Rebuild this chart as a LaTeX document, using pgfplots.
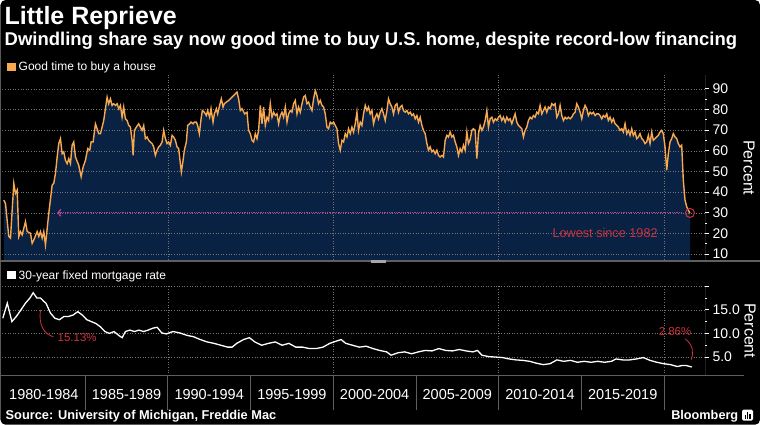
\documentclass[border=0pt]{standalone}
\usepackage{pgfplots}
\pgfplotsset{compat=1.18}
\usepackage{pgfplotstable}
\usepackage{fontspec}
\setmainfont{Liberation Sans}
\usetikzlibrary{arrows.meta}

\definecolor{navy}{RGB}{9,33,66}
\definecolor{sentorange}{RGB}{248,168,78}
\definecolor{annred}{RGB}{205,50,62}
\definecolor{arrowpink}{RGB}{185,60,150}
\definecolor{gridgray}{RGB}{115,115,120}
\definecolor{sepgray}{RGB}{95,95,95}

% Good time to buy a house (x column = horizontal position, converted to years below)
\pgfplotstableread{
px v
3.3 36.1
5.0 34.5
8.3 18.5
10.0 17.7
13.3 44.2
15.0 39.4
16.7 41.0
18.3 18.5
20.0 20.9
21.7 19.3
25.0 25.7
26.7 20.9
30.0 20.1
31.7 15.2
33.3 16.8
36.7 20.9
38.3 18.5
40.0 20.9
41.7 17.7
43.3 20.9
45.0 14.4
48.3 29.7
51.7 43.4
53.3 44.2
55.0 49.0
56.7 57.0
58.3 63.5
60.0 65.9
61.7 58.6
63.3 59.5
65.0 55.4
66.7 53.8
68.3 56.2
70.0 53.8
71.7 62.7
73.3 64.3
75.0 57.0
78.3 53.0
80.7 47.4
82.7 52.2
85.0 55.4
87.3 61.1
89.3 60.3
90.7 64.3
92.7 64.3
95.0 73.1
96.7 70.7
98.3 68.3
100.0 68.3
101.7 71.5
103.3 74.7
105.0 80.4
106.7 86.0
108.3 82.8
110.0 85.2
111.7 82.0
113.3 82.8
115.0 82.0
116.7 82.8
118.3 80.4
120.0 82.0
121.7 76.3
123.3 81.2
125.0 75.5
126.7 74.7
128.3 72.3
130.0 71.5
131.7 65.1
132.7 57.8
134.0 69.9
136.0 71.5
138.3 73.1
140.0 71.5
141.7 69.9
143.3 72.3
145.0 65.9
146.7 66.7
148.3 65.1
150.0 64.3
151.7 63.5
153.3 61.9
155.0 57.8
156.7 60.3
158.3 61.9
160.0 62.7
161.7 64.3
163.3 69.9
165.0 65.9
166.7 63.5
168.3 64.3
170.0 62.7
171.7 67.5
173.3 66.7
175.0 65.1
176.7 61.9
178.3 61.1
180.0 53.8
181.0 49.8
182.7 55.4
184.0 60.3
186.0 64.3
187.3 72.3
189.3 73.1
190.7 73.9
192.7 73.1
194.0 73.9
196.0 73.9
197.3 72.3
199.0 68.3
200.7 75.5
202.0 79.5
204.0 78.7
206.0 77.1
207.3 79.5
209.3 76.3
210.7 80.4
212.7 73.9
214.0 77.9
216.0 80.4
217.3 77.9
219.3 82.0
221.0 85.2
222.7 81.2
224.0 82.8
226.0 83.6
228.3 84.4
230.0 85.2
231.7 86.0
233.3 86.8
235.0 87.6
236.7 88.4
238.3 85.2
240.0 79.5
241.7 80.4
244.3 77.9
246.7 78.7
248.3 69.9
250.0 68.3
251.7 65.1
253.3 64.3
255.0 68.3
256.7 65.9
258.3 69.9
260.0 82.0
261.7 73.1
263.3 81.2
265.0 72.3
266.7 76.3
268.3 74.7
270.0 82.8
271.7 76.3
273.3 78.7
275.0 77.1
276.7 77.9
278.3 73.1
280.0 77.1
281.7 78.7
283.3 76.3
285.0 81.2
286.7 73.9
288.3 77.9
290.0 79.5
291.7 78.7
293.3 82.8
295.0 84.4
296.7 77.9
298.3 81.2
300.0 78.7
301.7 82.8
303.3 86.0
305.0 86.8
306.7 82.8
308.3 83.6
310.0 81.2
311.7 79.5
313.3 85.2
315.0 89.2
316.7 86.8
318.3 82.8
320.0 84.4
321.7 82.0
323.3 81.2
325.0 77.9
326.7 71.5
328.3 70.7
330.0 73.9
331.7 73.1
333.3 73.9
335.0 72.3
336.7 70.7
338.3 63.5
340.0 60.3
341.7 65.1
343.3 64.3
345.0 68.3
346.7 66.7
348.3 70.7
350.0 68.3
351.7 71.5
353.3 69.1
355.0 73.1
356.7 78.7
358.3 69.9
360.0 73.9
361.7 72.3
363.3 77.9
365.0 82.0
366.7 79.5
368.3 81.2
370.0 77.9
371.7 79.5
373.3 73.1
375.0 76.3
376.7 77.9
378.3 75.5
380.0 78.7
381.7 80.4
383.3 77.9
385.0 74.7
386.7 79.5
388.3 85.2
390.0 82.8
391.7 81.2
393.3 77.9
395.0 82.0
396.7 82.8
398.3 78.7
400.0 81.2
401.7 82.0
403.3 79.5
405.0 78.7
406.7 79.5
408.3 77.9
410.0 78.7
411.7 77.1
413.3 77.9
415.0 75.5
416.7 77.1
418.3 73.9
420.0 76.3
421.7 72.3
423.3 69.9
425.0 68.3
426.7 63.5
428.3 60.3
430.0 61.9
431.7 59.5
433.3 60.3
435.0 58.6
436.7 60.3
438.3 57.8
440.0 57.0
441.7 57.8
443.3 57.0
445.0 65.1
446.7 67.5
448.3 66.7
450.0 69.1
451.7 66.7
453.3 67.5
455.0 64.3
456.7 61.9
458.3 57.8
460.0 61.1
461.7 59.5
463.3 62.7
465.0 60.3
466.7 69.1
468.3 63.5
470.0 65.5
471.7 69.9
473.3 70.7
475.0 69.9
476.7 56.2
478.3 68.3
480.0 72.3
481.7 69.9
483.3 71.5
485.0 74.7
486.7 79.5
488.3 71.5
490.0 75.5
491.7 76.3
493.3 73.9
495.0 75.5
496.7 74.7
498.3 76.3
500.0 77.1
501.7 74.7
503.3 76.3
505.0 73.9
506.7 76.3
508.3 74.7
510.0 75.5
511.7 73.1
513.3 75.5
515.0 77.9
516.7 73.9
518.3 72.3
520.0 71.5
521.7 70.7
523.3 66.7
525.0 69.9
526.7 71.5
528.3 74.7
530.0 76.3
531.7 75.5
533.3 77.1
535.0 76.3
536.7 78.7
538.3 77.9
540.0 82.0
541.7 77.9
543.3 79.5
545.0 81.2
546.7 78.7
548.3 81.2
550.0 80.4
551.7 82.8
553.3 82.0
555.0 82.8
556.7 76.3
558.3 77.9
560.0 82.0
561.7 77.1
563.3 74.7
565.0 76.3
566.7 75.5
568.3 76.3
570.0 75.5
571.7 76.3
573.3 77.9
575.0 78.7
576.7 82.8
578.3 81.2
580.0 78.7
581.7 75.5
583.3 79.5
585.0 82.0
586.7 80.4
588.3 77.1
590.0 78.7
591.7 77.9
593.3 78.7
595.0 77.1
596.7 77.9
598.3 77.9
600.0 77.1
601.7 75.5
603.3 77.1
605.0 76.3
606.7 77.9
608.3 74.7
610.0 76.3
611.7 73.9
613.3 75.5
615.0 73.1
616.7 72.3
618.3 71.5
620.0 69.9
621.7 70.7
623.3 69.1
625.0 73.1
626.7 68.3
628.3 69.9
630.0 67.5
631.7 70.7
633.3 67.5
635.0 69.1
636.7 65.9
638.3 66.7
640.0 68.3
641.7 65.9
643.3 65.1
645.0 63.5
646.7 64.3
648.3 67.5
650.0 63.5
651.7 69.1
653.3 65.1
655.0 65.9
656.7 66.7
658.3 67.5
660.0 69.1
661.7 69.9
663.3 68.3
665.0 61.9
666.7 50.6
668.3 58.6
670.0 64.3
671.7 65.9
673.3 68.3
675.0 66.7
676.7 65.9
678.3 63.5
680.0 61.9
681.7 62.7
683.3 45.8
685.0 36.1
686.7 32.9
688.3 31.3
690.0 29.7
}\topdata

% 30-year fixed mortgage rate
\pgfplotstableread{
px v
2.3 13.2
6.8 16.4
11.4 12.5
15.9 13.6
20.5 15.0
25.0 16.4
29.5 17.5
32.7 18.6
36.4 17.5
40.0 17.5
43.2 16.8
45.5 16.4
50.0 14.3
54.5 13.2
59.0 12.9
63.6 13.6
68.2 13.6
72.7 13.9
77.3 14.6
81.8 13.9
86.4 12.9
90.9 12.5
95.5 12.1
100.0 11.4
104.5 10.4
109.0 10.0
113.6 10.4
118.2 9.6
121.8 9.1
125.0 10.4
129.5 10.7
134.0 10.4
138.6 10.7
143.2 10.4
147.7 10.7
152.3 11.1
156.8 11.3
161.4 10.1
165.9 9.9
172.7 10.4
179.5 10.1
186.4 9.6
193.2 9.3
200.0 8.7
206.8 8.2
213.6 7.9
220.5 7.5
227.3 7.1
231.8 7.1
236.4 7.9
243.2 8.7
249.1 9.1
254.5 8.2
261.4 7.5
268.2 7.9
275.0 8.2
281.8 7.5
288.6 7.9
295.5 7.1
302.3 7.1
309.1 6.8
315.9 6.8
322.7 7.1
329.5 7.9
336.4 8.4
340.9 8.7
345.5 7.9
352.3 7.5
359.1 7.1
365.9 7.3
372.7 6.8
379.5 6.4
386.4 6.1
390.9 5.4
397.7 5.9
404.5 6.1
411.4 5.7
418.2 6.1
425.0 6.4
431.8 6.3
438.6 6.8
445.5 6.4
452.3 6.3
459.1 6.6
465.9 6.3
472.7 6.1
477.3 6.4
481.8 5.4
488.6 5.1
495.5 5.0
502.3 4.9
509.1 4.6
515.9 4.4
522.7 4.3
529.5 4.1
536.4 3.7
543.2 3.4
550.0 3.6
556.8 4.4
563.6 4.1
570.5 4.3
577.3 3.9
584.1 4.1
590.9 3.9
597.7 4.1
604.5 3.9
611.4 4.1
615.9 4.6
622.7 4.4
629.5 4.4
636.4 4.6
643.2 4.9
650.0 4.3
656.8 3.9
663.6 3.6
670.5 3.4
677.3 3.0
681.8 3.2
686.4 3.2
691.8 2.9
}\mortdata

\tikzset{gridline/.style={gridgray, dash pattern=on 1pt off 1.6pt, line width=0.5pt}}
\pgfplotsset{
  panel/.style={
    scale only axis, width=703pt,
    xmin=1980, xmax=2022.48,
    axis line style={draw=none},
    xtick=\empty,
    ytick pos=right, yticklabel pos=right,
    tick align=outside,
    major tick length=4pt, minor tick length=2pt,
    minor y tick num=1,
    tick style={white, line width=0.8pt},
    yticklabel style={font=\fontsize{14}{14}\selectfont, text=white},
  },
}

\begin{document}
\begin{tikzpicture}
\begin{scope}[x=1pt,y=1pt]
\fill[white] (0,0) rectangle (760,425);
\fill[black, rounded corners=5pt] (0,0) rectangle (760,425);
\end{scope}

% ---- top panel: good time to buy a house
\begin{axis}[panel, at={(2pt,350pt)}, anchor=north west, height=185pt,
  ymin=7.2, ymax=96.75, ytick={10,20,30,40,50,60,70,80,90},
  yticklabels={10,20,30,40,50,60,70,80,90}]
  \addplot[fill=navy, draw=none] table[x expr=1980+(\thisrow{px}-2)/16.55, y=v] {\topdata} \closedcycle;
  \pgfplotsinvokeforeach{10,20,30,40,50,60,70,80,90}{
    \draw[gridline] (axis cs:1980,#1) -- (axis cs:2022.48,#1);}
  \pgfplotsinvokeforeach{1990,2000,2010,2020}{
    \draw[gridline] (axis cs:#1,7.2) -- (axis cs:#1,96.75);}
  \draw[arrowpink, densely dotted, line width=1.3pt, -{Straight Barb[length=3pt,width=7pt]}]
    (axis cs:2021.1,30) -- (axis cs:1983.3,30);
  \addplot[sentorange, line width=1.4pt] table[x expr=1980+(\thisrow{px}-2)/16.55, y=v] {\topdata};
  \addplot[only marks, mark=o, mark size=4.5pt, annred, line width=1pt] coordinates {(2021.57,29.9)};
  \draw[white, line width=1pt] (rel axis cs:1,0) -- (rel axis cs:1,1);
\end{axis}

% ---- bottom panel: mortgage rate
\begin{axis}[panel, at={(2pt,139pt)}, anchor=north west, height=90pt,
  ymin=1.05, ymax=20.07, ytick={5,10,15,20},
  yticklabels={5.0,10.0,15.0,{}}]
  \pgfplotsinvokeforeach{5,10,15,20}{
    \draw[gridline] (axis cs:1980,#1) -- (axis cs:2022.48,#1);}
  \pgfplotsinvokeforeach{1990,2000,2010,2020}{
    \draw[gridline] (axis cs:#1,1.05) -- (axis cs:#1,20.07);}
  \addplot[white, line width=1.3pt] table[x expr=1980+(\thisrow{px}-2)/16.55, y=v] {\mortdata};
  \draw[white, line width=1pt] (rel axis cs:1,0) -- (rel axis cs:1,1);
\end{axis}

% ---- category row
\begin{axis}[scale only axis, width=703pt, height=34pt, at={(2pt,49pt)}, anchor=north west,
  xmin=1980, xmax=2022.48, ymin=0, ymax=1,
  axis line style={draw=none}, ytick=\empty,
  xtick={1982.5,1987.5,1992.5,1997.5,2002.5,2007.5,2012.5,2017.5},
  xticklabels={1980-1984,1985-1989,1990-1994,1995-1999,2000-2004,2005-2009,2010-2014,2015-2019},
  major tick length=0pt,
  xticklabel style={anchor=center, yshift=15pt, font=\fontsize{14.5}{14.5}\selectfont, text=white}]
  \pgfplotsinvokeforeach{1985,1990,1995,2000,2005,2010,2015,2020}{
    \draw[sepgray, line width=0.9pt] (axis cs:#1,0) -- (axis cs:#1,1);}
\end{axis}

\begin{scope}[x=1pt,y=1pt]
% titles
\node[anchor=base west, inner sep=0, text=white, font=\fontsize{25}{30}\selectfont\bfseries] at (4,400) {Little Reprieve};
\node[anchor=base west, inner sep=0, text=white, font=\fontsize{18.5}{22}\selectfont\bfseries] at (4,379.5) {Dwindling share say now good time to buy U.S. home, despite record-low financing};
% legends
\fill[sentorange] (7,353.5) rectangle (15.5,362);
\node[anchor=base west, inner sep=0, text=white, font=\fontsize{12}{14}\selectfont] at (18,354) {Good time to buy a house};
\fill[white] (7,145.7) rectangle (15.7,153.5);
\node[anchor=base west, inner sep=0, text=white, font=\fontsize{12}{14}\selectfont] at (18,145.7) {30-year fixed mortgage rate};
% separators
\fill[sepgray] (0,162.5) rectangle (760,164.5);
\fill[gray!70] (371,162.2) rectangle (386,164.8);
\draw[sepgray, line width=1pt] (0,49) -- (744,49);
% axis titles
\node[rotate=-90, text=white, font=\fontsize{16}{16}\selectfont] at (749,257) {Percent};
\node[rotate=-90, text=white, font=\fontsize{16}{16}\selectfont] at (750,94) {Percent};
% annotations
\node[text=annred, font=\fontsize{12.7}{14}\selectfont] at (605,192) {Lowest since 1982};
\draw[annred, line width=0.8pt] (40,115) .. controls (38,100) and (43,91) .. (53,88);
\node[anchor=west, inner sep=0, text=annred, font=\fontsize{11.5}{13}\selectfont] at (57,87.5) {15.13\%};
\node[inner sep=0, text=annred, font=\fontsize{11.5}{13}\selectfont] at (675,93) {2.86\%};
\draw[annred, line width=0.8pt] (685,86) .. controls (693,80) and (694,72) .. (691,65);
% footer
\node[anchor=base west, inner sep=0, text=white, font=\fontsize{12.8}{14}\selectfont\bfseries] at (5,5) {Source: University of Michigan, Freddie Mac};
\node[anchor=base west, inner sep=0, text=white, font=\fontsize{12.7}{14}\selectfont\bfseries] at (671,5) {Bloomberg};
\fill[white, rounded corners=1.5pt] (742,4) rectangle (753,15);
\fill[black] (744.5,6) rectangle (745.8,10);
\fill[black] (746.9,6) rectangle (748.2,13);
\fill[black] (749.3,6) rectangle (750.6,11);
\end{scope}
\end{tikzpicture}
\end{document}
